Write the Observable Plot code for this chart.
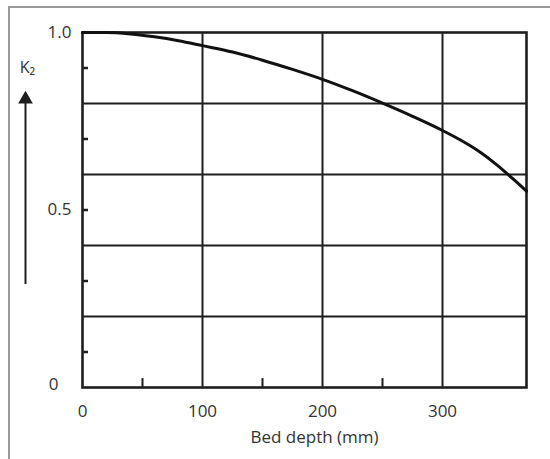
<!DOCTYPE html>
<html>
<head>
<meta charset="utf-8">
<script src="https://cdn.jsdelivr.net/npm/d3@7"></script>
<script src="https://cdn.jsdelivr.net/npm/@observablehq/plot@0.6"></script>
<style>
  html, body { margin: 0; padding: 0; background: #fff; overflow: hidden; }
  #wrap { position: relative; width: 550px; height: 459px; }
  #border { position: absolute; left: 8px; top: 6px; width: 600px; height: 500px;
            border-left: 2px solid #9a9a9a; border-top: 2px solid #9a9a9a; pointer-events: none; }
</style>
</head>
<body>
<div id="wrap"><div id="border"></div></div>
<script>
// Bed depth (mm) vs K2 correction factor
const depth = [0, 20, 40, 60, 80, 100, 125, 150, 175, 200, 225, 250, 275, 300, 315, 330, 345, 360, 370];
const k2    = [1.0, 1.0, 0.996, 0.988, 0.977, 0.963, 0.945, 0.922, 0.896, 0.868, 0.836, 0.801, 0.764, 0.724, 0.697, 0.666, 0.628, 0.584, 0.553];

const xGrid = [100, 200, 300];
const yGrid = [0.2, 0.4, 0.6, 0.8];
const xMinor = [50, 150, 250];
const yMinor = [0.1, 0.3, 0.5, 0.7, 0.9];
const xTickLabels = ["0", "100", "200", "300"];
const xTickValues = [0, 100, 200, 300];
const yTickValues = [0.5, 1.0];
const yTickLabels = ["0.5", "1.0"];
const yZeroLabel = ["0"];

const curve = depth.map((d, i) => ({depth: d, k2: k2[i]}));
const ink = "#1e1e1e";
const font = "'Open Sans', sans-serif";

const chart = Plot.plot({
  width: 550,
  height: 459,
  marginLeft: 82,
  marginRight: 24,
  marginTop: 32,
  marginBottom: 72,
  x: {domain: [0, 370], axis: null},
  y: {domain: [0, 1], axis: null},
  style: {fontFamily: font, color: "#2a2a2a", background: "transparent"},
  marks: [
    Plot.ruleX(xGrid, {stroke: ink, strokeWidth: 2}),
    Plot.ruleY(yGrid, {stroke: ink, strokeWidth: 2.2}),
    Plot.ruleY(yMinor, {y: d => d, x1: 0, x2: 5, stroke: ink, strokeWidth: 2.5}),
    Plot.ruleX(xMinor, {x: d => d, y1: 0, y2: 0.025, stroke: ink, strokeWidth: 2}),
    Plot.frame({stroke: ink, strokeWidth: 2.6}),
    Plot.line(curve, {x: "depth", y: "k2", curve: "monotone-x", stroke: "#111", strokeWidth: 3}),
    Plot.text(xTickValues, {x: d => d, text: (d, i) => xTickLabels[i], frameAnchor: "bottom", dy: 29, fontSize: 17, fill: "#333"}),
    Plot.text(yTickValues, {x: 0, y: d => d, text: (d, i) => yTickLabels[i], dx: -11, textAnchor: "end", fontSize: 17, fill: "#333"}),
    Plot.text([0], {x: 0, y: d => d, text: (d, i) => yZeroLabel[i], dx: -24, dy: -3, textAnchor: "end", fontSize: 17, fill: "#333"}),
    Plot.text(["Bed depth (mm)"], {frameAnchor: "bottom", text: d => d, dx: 10, dy: 55, fontSize: 17, fill: "#333"}),
    Plot.text(["K₂"], {x: -46, y: 0.9, text: d => d, fontSize: 16, fill: "#333"}),
    Plot.ruleX([-47.5], {y1: 0.29, y2: 0.8, stroke: ink, strokeWidth: 2}),
    Plot.dot([-47.5], {x: d => d, y: 0.812, symbol: "triangle2", r: 7, fill: ink, stroke: "none"})
  ]
});
document.getElementById("wrap").prepend(chart);
</script>
</body>
</html>
